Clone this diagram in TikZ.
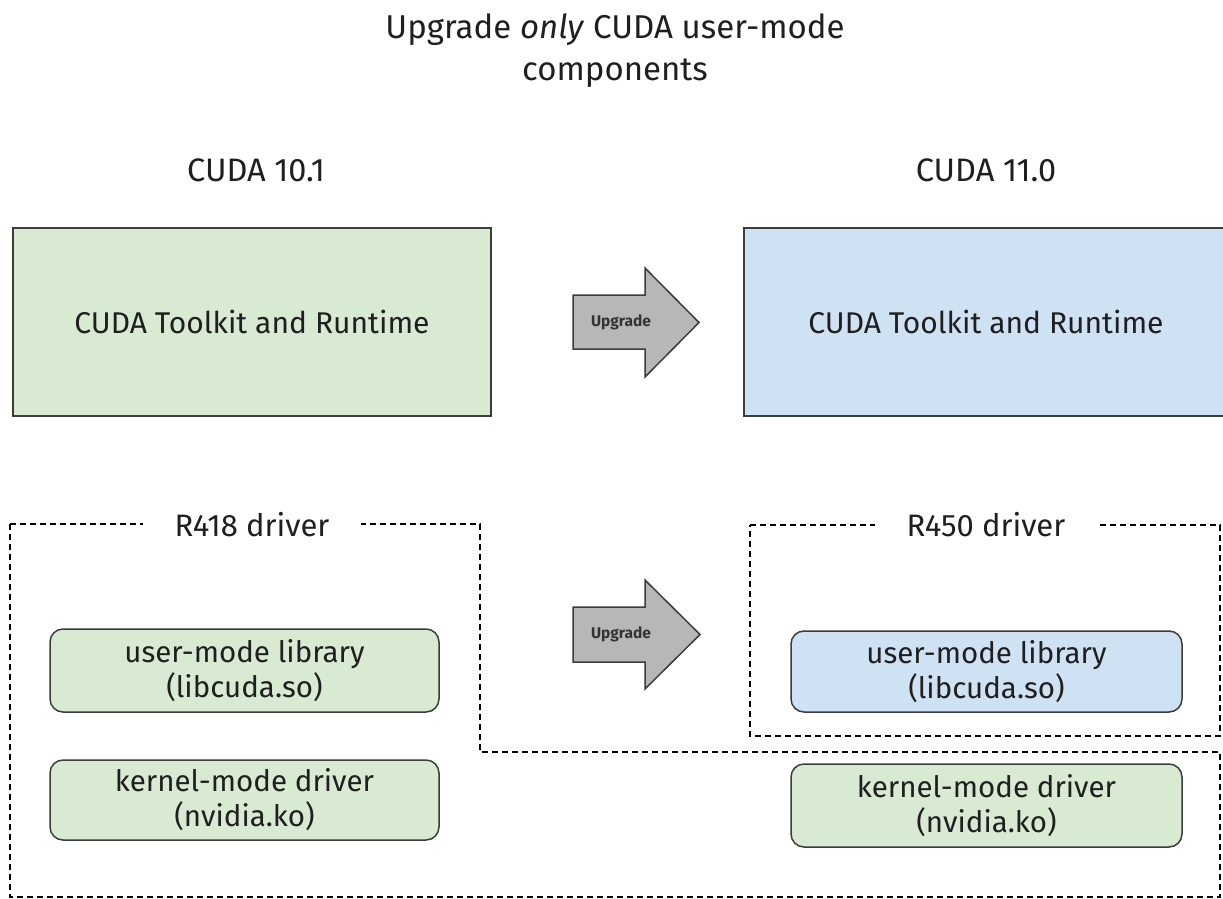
\documentclass[tikz,border=0pt]{standalone}
\usepackage{fontspec}
\setmainfont{Fira Sans}
\definecolor{boxgreen}{HTML}{D9EAD3}
\definecolor{boxblue}{HTML}{CFE2F3}
\definecolor{arrowgray}{HTML}{B7B7B7}
\definecolor{edgegray}{HTML}{3C3C3C}
\begin{document}
\begin{tikzpicture}[x=1pt,y=-1pt,
  bigtext/.style={font=\fontsize{30}{38}\selectfont, text=black!88},
  labeltext/.style={font=\fontsize{32.5}{38}\selectfont, text=black!88},
  midtext/.style={font=\fontsize{29.5}{35}\selectfont, text=black!88, align=center},
  topbox/.style={draw=edgegray, line width=1.5pt, minimum height=188pt, inner sep=0pt, bigtext},
  compbox/.style={draw=edgegray, line width=1.5pt, rounded corners=13pt, inner sep=0pt, midtext},
  dashline/.style={draw=black, line width=1.2pt, dash pattern=on 6pt off 4pt},
  fatarrow/.style={draw=edgegray, fill=arrowgray, line width=1.5pt, line join=miter},
  arrowtext/.style={font=\fontsize{15.5}{18}\selectfont\bfseries, text=black!80},
  drvlabel/.style={fill=white, inner xsep=32pt, inner ysep=2pt, font=\fontsize{31}{36}\selectfont, text=black!88}
]
\clip (0,0) rectangle (1223,899);
\fill[white] (0,0) rectangle (1223,899);

% title
\node[align=center, font=\fontsize{33}{42}\selectfont, text=black!88] (title) at (615,51)
  {Upgrade \textit{only} CUDA user-mode\\components};

% version labels
\node[labeltext] (v101) at (256,170) {CUDA 10.1};
\node[labeltext] (v110) at (986,170) {CUDA 11.0};

% top boxes
\node[topbox, fill=boxgreen, minimum width=478pt] (tkl) at (252,322) {CUDA Toolkit and Runtime};
\node[topbox, fill=boxblue, minimum width=484pt] (tkr) at (986,322) {CUDA Toolkit and Runtime};

% upgrade arrows
\draw[fatarrow] (573,295) -- (645,295) -- (645,268) -- (699,322.5) -- (645,377) -- (645,349) -- (573,349) -- cycle;
\node[arrowtext] (up1) at (621,322) {Upgrade};
\draw[fatarrow] (573,607) -- (645,607) -- (645,580) -- (700,634.5) -- (645,689) -- (645,662) -- (573,662) -- cycle;
\node[arrowtext] (up2) at (621,634) {Upgrade};

% dashed driver outlines
\coordinate (a1) at (10,524);
\coordinate (a2) at (480,524);
\coordinate (a3) at (480,752);
\coordinate (a4) at (1220,752);
\coordinate (a5) at (1220,897);
\coordinate (a6) at (10,897);
\draw[dashline] (a1) -- (a2) -- (a3) -- (a4) -- (a5) -- (a6) -- cycle;
\coordinate (b1) at (750,525);
\coordinate (b2) at (1220,525);
\coordinate (b3) at (1220,736);
\coordinate (b4) at (750,736);
\draw[dashline] (b1) -- (b2) -- (b3) -- (b4) -- cycle;

\node[drvlabel] (r418) at (252,525) {R418 driver};
\node[drvlabel] (r450) at (986,525) {R450 driver};

% component boxes
\node[compbox, fill=boxgreen, minimum width=389pt, minimum height=83pt] (ulib1) at (244.5,670.5)
  {user-mode library\\(libcuda.so)};
\node[compbox, fill=boxgreen, minimum width=389pt, minimum height=80pt] (kmd1) at (244.5,800)
  {kernel-mode driver\\(nvidia.ko)};
\node[compbox, fill=boxblue, minimum width=391pt, minimum height=81pt] (ulib2) at (986.5,671.5)
  {user-mode library\\(libcuda.so)};
\node[compbox, fill=boxgreen, minimum width=391pt, minimum height=83pt] (kmd2) at (986.5,805.5)
  {kernel-mode driver\\(nvidia.ko)};
\end{tikzpicture}
\end{document}
